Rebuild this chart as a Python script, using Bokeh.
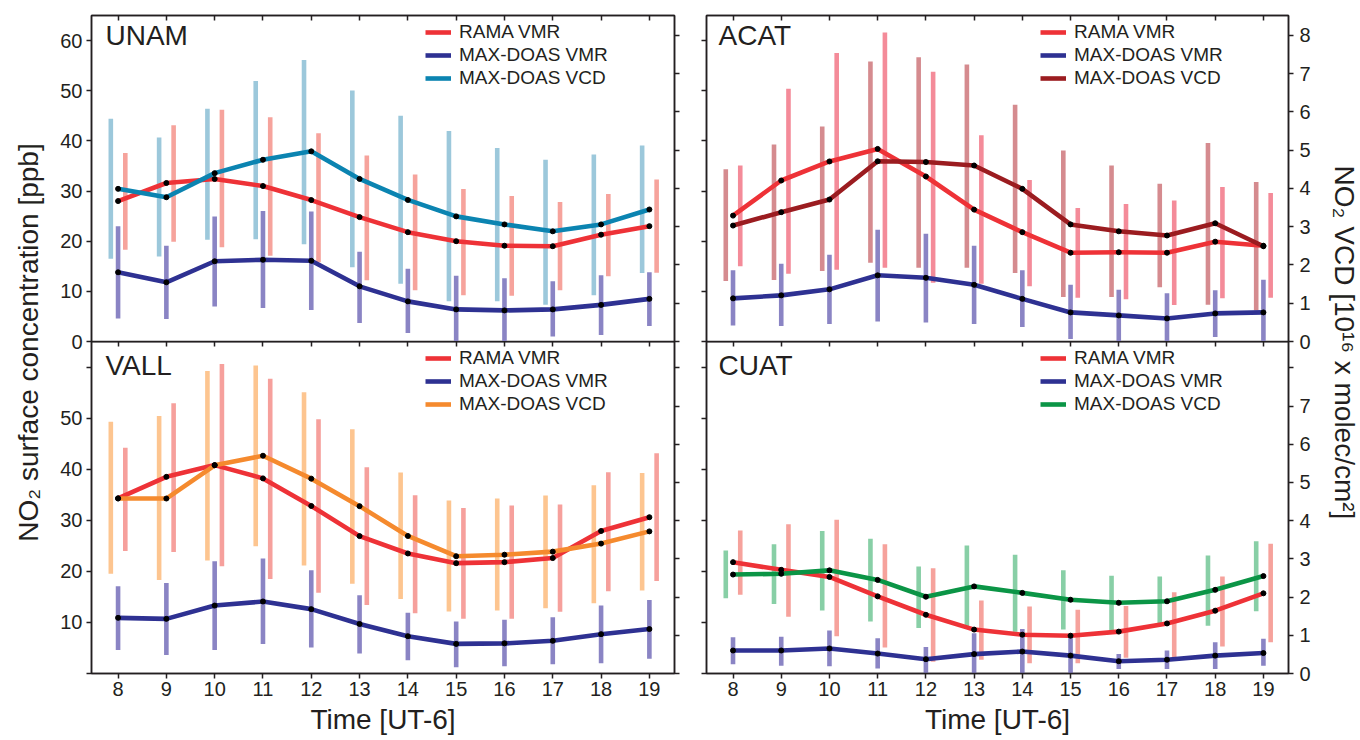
import math
from bokeh.plotting import figure
from bokeh.models import Range1d, LinearAxis, FixedTicker, Legend, LegendItem, Label
from bokeh.layouts import row, column
from bokeh.embed import file_html
from bokeh.resources import INLINE
from bokeh.core.properties import value

# ---------------- data ----------------
hours = [8, 9, 10, 11, 12, 13, 14, 15, 16, 17, 18, 19]
ppb_ticks = [0, 10, 20, 30, 40, 50, 60]
vcd_ticks = [0, 1, 2, 3, 4, 5, 6, 7, 8]
series_labels = ["RAMA VMR", "MAX-DOAS VMR", "MAX-DOAS VCD"]

# UNAM
unam_rama = [28.0, 31.6, 32.4, 31.0, 28.2, 24.8, 21.8, 20.0, 19.1, 19.0, 21.3, 23.0]
unam_rama_lo = [18.3, 19.9, 18.8, 17.1, 15.8, 12.2, 10.2, 9.2, 9.1, 10.2, 13.0, 13.7]
unam_rama_hi = [37.6, 43.1, 46.2, 44.7, 41.5, 37.1, 33.3, 30.4, 29.0, 27.8, 29.4, 32.3]
unam_vmr = [13.8, 11.8, 16.0, 16.3, 16.1, 11.0, 8.0, 6.4, 6.2, 6.4, 7.3, 8.5]
unam_vmr_lo = [4.6, 4.5, 7.0, 6.7, 6.3, 3.7, 1.7, 0.0, 0.0, 1.0, 1.3, 3.1]
unam_vmr_hi = [23.0, 19.1, 24.9, 26.0, 25.9, 17.9, 14.5, 13.1, 12.6, 12.0, 13.2, 13.8]
unam_vcd = [3.99, 3.77, 4.40, 4.75, 4.97, 4.25, 3.70, 3.27, 3.06, 2.88, 3.06, 3.45]
unam_vcd_lo = [2.16, 2.22, 2.66, 2.67, 2.54, 1.94, 1.51, 1.05, 1.05, 0.96, 1.21, 1.79]
unam_vcd_hi = [5.82, 5.33, 6.08, 6.81, 7.36, 6.56, 5.90, 5.50, 5.06, 4.75, 4.89, 5.12]

# ACAT
acat_rama = [25.1, 32.1, 35.9, 38.4, 32.9, 26.3, 21.8, 17.7, 17.8, 17.7, 19.9, 19.1]
acat_rama_lo = [15.0, 13.5, 14.3, 14.7, 11.7, 11.5, 11.0, 8.7, 8.4, 7.3, 8.6, 8.7]
acat_rama_hi = [35.1, 50.4, 57.5, 61.6, 53.8, 41.1, 32.2, 26.6, 27.4, 28.1, 30.8, 29.6]
acat_vmr = [8.6, 9.2, 10.4, 13.2, 12.7, 11.3, 8.5, 5.8, 5.2, 4.6, 5.6, 5.8]
acat_vmr_lo = [3.2, 3.1, 3.5, 4.0, 3.8, 3.5, 2.9, 0.5, 0.0, 0.0, 0.9, 0.0]
acat_vmr_hi = [14.2, 15.5, 17.3, 22.3, 21.5, 19.1, 14.2, 11.3, 10.3, 9.6, 10.2, 12.3]
acat_vcd = [3.03, 3.38, 3.71, 4.71, 4.69, 4.60, 3.99, 3.06, 2.88, 2.77, 3.09, 2.49]
acat_vcd_lo = [1.58, 1.61, 1.84, 2.06, 1.93, 1.93, 1.79, 1.16, 1.16, 1.42, 0.96, 0.81]
acat_vcd_hi = [4.50, 5.15, 5.62, 7.32, 7.43, 7.24, 6.19, 4.99, 4.60, 4.12, 5.19, 4.17]

# VALL
vall_rama = [34.3, 38.5, 40.8, 38.2, 32.8, 26.9, 23.5, 21.6, 21.8, 22.6, 27.9, 30.6]
vall_rama_lo = [24.0, 23.8, 21.0, 18.5, 15.8, 13.4, 11.8, 10.7, 10.7, 12.1, 16.1, 18.1]
vall_rama_hi = [44.2, 52.9, 60.6, 57.7, 49.8, 40.4, 34.9, 32.4, 32.9, 33.1, 39.4, 43.1]
vall_vmr = [10.9, 10.7, 13.3, 14.1, 12.6, 9.7, 7.3, 5.8, 5.9, 6.4, 7.7, 8.7]
vall_vmr_lo = [4.6, 3.6, 4.6, 5.8, 5.1, 3.9, 2.6, 1.2, 1.4, 1.8, 2.0, 2.9]
vall_vmr_hi = [17.1, 17.7, 22.0, 22.5, 20.2, 15.3, 11.9, 10.2, 10.5, 11.0, 13.3, 14.4]
vall_vcd = [4.58, 4.58, 5.45, 5.70, 5.10, 4.38, 3.60, 3.07, 3.11, 3.19, 3.40, 3.72]
vall_vcd_lo = [2.61, 2.45, 2.96, 3.33, 2.83, 2.35, 1.95, 1.62, 1.65, 1.71, 1.84, 2.17]
vall_vcd_hi = [6.59, 6.74, 7.92, 8.06, 7.36, 6.39, 5.26, 4.53, 4.58, 4.66, 4.93, 5.25]

# CUAT
cuat_rama = [21.8, 20.3, 18.9, 15.1, 11.5, 8.6, 7.6, 7.4, 8.2, 9.8, 12.3, 15.7]
cuat_rama_lo = [15.4, 11.1, 7.3, 5.1, 2.3, 2.7, 2.0, 2.0, 3.1, 3.1, 5.3, 6.1]
cuat_rama_hi = [28.0, 29.2, 30.1, 25.3, 20.6, 14.3, 13.1, 12.5, 13.2, 15.9, 19.0, 25.4]
cuat_vmr = [4.5, 4.5, 4.9, 3.9, 2.8, 3.8, 4.3, 3.5, 2.4, 2.7, 3.5, 4.0]
cuat_vmr_lo = [1.8, 1.5, 1.4, 1.0, 0.0, 0.0, 0.0, 0.0, 0.9, 0.9, 0.9, 1.5]
cuat_vmr_hi = [7.1, 7.2, 8.4, 6.9, 5.2, 7.9, 8.7, 7.4, 3.8, 4.5, 6.1, 6.8]
cuat_vcd = [2.59, 2.61, 2.70, 2.45, 2.01, 2.28, 2.11, 1.93, 1.85, 1.89, 2.19, 2.55]
cuat_vcd_lo = [1.97, 1.82, 1.65, 1.36, 1.19, 1.23, 1.09, 1.15, 1.12, 1.30, 1.25, 1.63]
cuat_vcd_hi = [3.22, 3.38, 3.73, 3.53, 2.80, 3.35, 3.11, 2.70, 2.56, 2.54, 3.09, 3.46]

# ---------------- style ----------------
FONT = "Liberation Sans"
INK = "#231f20"
RAMA_COLOR = "#ee3237"
VMR_COLOR = "#2e3192"
VMR_BAR = "#8a84c4"
LW = 4.6
BAR_W = 4.6
OFF = 0.15
OVERLAP = 12


def style_axis(ax, ticks, show_labels, tick_in, tick_out, standoff=4):
    ax.axis_line_color = INK
    ax.axis_line_width = 1.5
    ax.major_tick_line_color = INK
    ax.major_tick_line_width = 1.5
    ax.major_tick_in = tick_in
    ax.major_tick_out = tick_out
    ax.minor_tick_line_color = None
    ax.major_label_text_font = FONT
    ax.major_label_text_color = INK
    if show_labels:
        ax.major_label_text_font_size = "20px"
        ax.major_label_standoff = standoff
    else:
        ax.major_label_text_font_size = "0px"
        ax.major_label_standoff = 0
        ax.major_label_overrides = {t: "" for t in ticks}


def make_panel(pos, name, rama, rama_lo, rama_hi, vmr, vmr_lo, vmr_hi,
               vcd, vcd_lo, vcd_hi, vcd_color, vcd_bar, rama_bar):
    top = pos in ("tl", "tr")
    left = pos in ("tl", "bl")
    width = 642 if left else 628
    height = (341 + OVERLAP) if top else 399
    frame_h = 326 if top else 332
    vcd_max = 8.52 if top else 8.69
    p = figure(width=width, height=height,
               x_range=Range1d(7.45, 19.52), y_range=Range1d(0, 65),
               x_axis_location="above" if top else "below",
               toolbar_location=None, output_backend="svg",
               min_border_left=43 if left else 16,
               min_border_right=16 if left else 30,
               min_border_top=15 if top else 0,
               min_border_bottom=OVERLAP if top else 67)
    if not top:
        p.margin = (-OVERLAP, 0, 0, 0)
    p.extra_y_ranges = {"vcd": Range1d(0, vcd_max)}
    p.grid.visible = False
    p.outline_line_color = INK
    p.outline_line_width = 1.5
    p.outline_line_alpha = 1.0
    p.background_fill_alpha = 0
    p.border_fill_alpha = 0

    # x axes
    xa = p.xaxis[0]
    xa.ticker = FixedTicker(ticks=hours)
    if top:
        style_axis(xa, hours, False, 5, 0)
    else:
        style_axis(xa, hours, True, 0, 5, standoff=3)
        xa.axis_label = "Time [UT-6]"
        xa.axis_label_text_font = FONT
        xa.axis_label_text_font_size = "28px"
        xa.axis_label_text_font_style = "normal"
        xa.axis_label_text_color = INK
        xa.axis_label_standoff = 5
        xt = LinearAxis(ticker=FixedTicker(ticks=hours))
        style_axis(xt, hours, False, 5, 0)
        p.add_layout(xt, "above")

    # left (ppb) axis
    ya = p.yaxis[0]
    ya.ticker = FixedTicker(ticks=ppb_ticks)
    style_axis(ya, ppb_ticks, left, 0, 5, standoff=4)
    if left and not top:
        ya.major_label_overrides = {0: "", 60: ""}

    # right (vcd) axis
    yr = LinearAxis(y_range_name="vcd", ticker=FixedTicker(ticks=vcd_ticks))
    style_axis(yr, vcd_ticks, not left, 0, 5, standoff=6)
    if (not left) and (not top):
        yr.major_label_overrides = {8: ""}
    p.add_layout(yr, "right")

    # error bars
    xv = [h - OFF for h in hours]
    xr = [h + OFF for h in hours]
    p.segment(x0=xv, y0=vcd_lo, x1=xv, y1=vcd_hi, y_range_name="vcd",
              line_color=vcd_bar, line_width=BAR_W, line_cap="butt")
    p.segment(x0=xr, y0=rama_lo, x1=xr, y1=rama_hi,
              line_color=rama_bar, line_width=BAR_W, line_cap="butt")
    p.segment(x0=hours, y0=vmr_lo, x1=hours, y1=vmr_hi,
              line_color=VMR_BAR, line_width=BAR_W, line_cap="butt")

    # lines
    r_rama = p.line(hours, rama, line_color=RAMA_COLOR, line_width=LW, line_join="round")
    r_vmr = p.line(hours, vmr, line_color=VMR_COLOR, line_width=LW, line_join="round")
    r_vcd = p.line(hours, vcd, line_color=vcd_color, line_width=LW, line_join="round",
                   y_range_name="vcd")
    # points
    p.scatter(hours, rama, size=5, color="black")
    p.scatter(hours, vmr, size=5, color="black")
    p.scatter(hours, vcd, size=5, color="black", y_range_name="vcd")

    legend = Legend(items=[LegendItem(label=series_labels[0], renderers=[r_rama]),
                           LegendItem(label=series_labels[1], renderers=[r_vmr]),
                           LegendItem(label=series_labels[2], renderers=[r_vcd])],
                    location=(334, frame_h - 74))
    legend.background_fill_alpha = 0
    legend.border_line_color = None
    legend.padding = 0
    legend.margin = 0
    legend.spacing = 1
    legend.glyph_width = 26
    legend.glyph_height = 22
    legend.label_height = 22
    legend.label_standoff = 8
    legend.label_text_font = FONT
    legend.label_text_font_size = "19px"
    legend.label_text_color = INK
    p.add_layout(legend)

    p.add_layout(Label(x=14 if left else 12, y=frame_h - (20 if top else 24),
                       x_units="screen", y_units="screen", text=name,
                       text_font=FONT, text_font_size="28px", text_color=INK,
                       text_baseline="middle"))
    return p


tl = make_panel("tl", "UNAM", unam_rama, unam_rama_lo, unam_rama_hi,
                unam_vmr, unam_vmr_lo, unam_vmr_hi,
                unam_vcd, unam_vcd_lo, unam_vcd_hi, "#0b84b1", "#9cc8db", "#f6a39c")
tr = make_panel("tr", "ACAT", acat_rama, acat_rama_lo, acat_rama_hi,
                acat_vmr, acat_vmr_lo, acat_vmr_hi,
                acat_vcd, acat_vcd_lo, acat_vcd_hi, "#9b1c20", "#d58b8f", "#f48b99")
bl = make_panel("bl", "VALL", vall_rama, vall_rama_lo, vall_rama_hi,
                vall_vmr, vall_vmr_lo, vall_vmr_hi,
                vall_vcd, vall_vcd_lo, vall_vcd_hi, "#f58a2e", "#fdc590", "#f6a09c")
br = make_panel("br", "CUAT", cuat_rama, cuat_rama_lo, cuat_rama_hi,
                cuat_vmr, cuat_vmr_lo, cuat_vmr_hi,
                cuat_vcd, cuat_vcd_lo, cuat_vcd_hi, "#0b9546", "#88cfa6", "#f6a29c")


def label_fig(w, h, x, y, text, angle):
    f = figure(width=w, height=h, x_range=Range1d(0, w), y_range=Range1d(0, h),
               x_axis_location=None, y_axis_location=None, min_border=0,
               toolbar_location=None, output_backend="svg")
    f.grid.visible = False
    f.outline_line_color = None
    f.text(x=[x], y=[y], text=[text], angle=angle, text_align="center",
           text_baseline="middle", text_font=value(FONT), text_font_size="28px",
           text_color=INK)
    return f


lab_l = label_fig(48, 740, 28, 398, "NO\u2082 surface concentration [ppb]", math.pi / 2)
lab_r = label_fig(42, 740, 26, 398, "NO\u2082 VCD [10\u00b9\u2076 x molec/cm\u00b2]", -math.pi / 2)

layout = row(lab_l, column(tl, bl), column(tr, br), lab_r)
open("out.html", "w").write(file_html(layout, INLINE, "NO2"))
